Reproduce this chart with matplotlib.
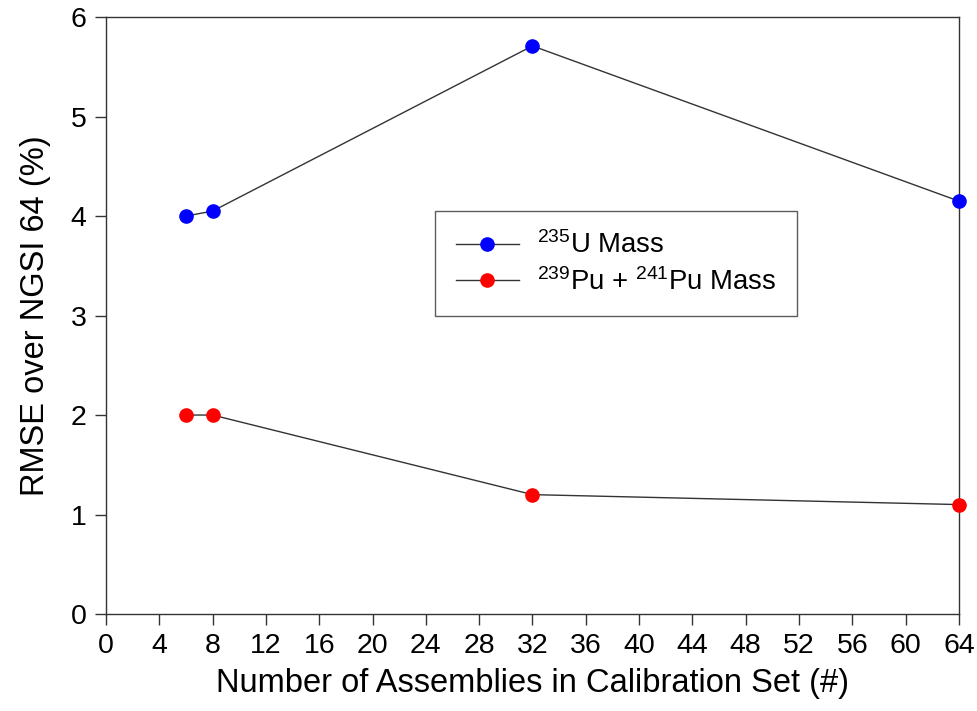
import matplotlib
matplotlib.use("Agg")
import matplotlib.pyplot as plt

plt.rcParams['font.family'] = ['Liberation Sans', 'DejaVu Sans']
plt.rcParams['mathtext.fontset'] = 'custom'
plt.rcParams['mathtext.rm'] = 'Liberation Sans'

n_assemblies = [6, 8, 32, 64]
u235_rmse = [4.0, 4.05, 5.71, 4.15]
pu_rmse = [2.0, 2.0, 1.2, 1.1]
x_ticks = list(range(0, 65, 4))
y_ticks = [0, 1, 2, 3, 4, 5, 6]

fig = plt.figure(figsize=(9.77, 7.11), dpi=100)
ax = fig.add_axes([0.1085, 0.1364, 0.873, 0.8396])

ax.plot(n_assemblies, u235_rmse, '-', color='#333333', lw=1.0, marker='o',
        markersize=9.5, markerfacecolor='blue', markeredgecolor='blue',
        label=r'$\mathregular{^{235}}$U Mass', clip_on=False, zorder=3)
ax.plot(n_assemblies, pu_rmse, '-', color='#333333', lw=1.0, marker='o',
        markersize=9.5, markerfacecolor='red', markeredgecolor='red',
        label=r'$\mathregular{^{239}}$Pu + $\mathregular{^{241}}$Pu Mass', clip_on=False, zorder=3)

ax.set_xlim(0, 64)
ax.set_ylim(0, 6)
ax.set_xticks(x_ticks)
ax.set_yticks(y_ticks)
ax.tick_params(direction='out', length=8, width=1, labelsize=20.5, colors='#333333',
               labelcolor='black', pad=6)
for s in ax.spines.values():
    s.set_color('#333333')
    s.set_linewidth(1)

ax.set_xlabel('Number of Assemblies in Calibration Set (#)', fontsize=23.5, labelpad=6)
ax.set_ylabel('RMSE over NGSI 64 (%)', fontsize=23.5, labelpad=14)

leg = ax.legend(loc='upper left', bbox_to_anchor=(0.386, 0.675), fontsize=19.8,
                frameon=True, fancybox=False, edgecolor='#333333',
                borderpad=0.75, handlelength=2.3, handletextpad=0.65,
                labelspacing=0.3, borderaxespad=0)
leg.get_frame().set_linewidth(1)

fig.savefig('out.png', dpi=100)
